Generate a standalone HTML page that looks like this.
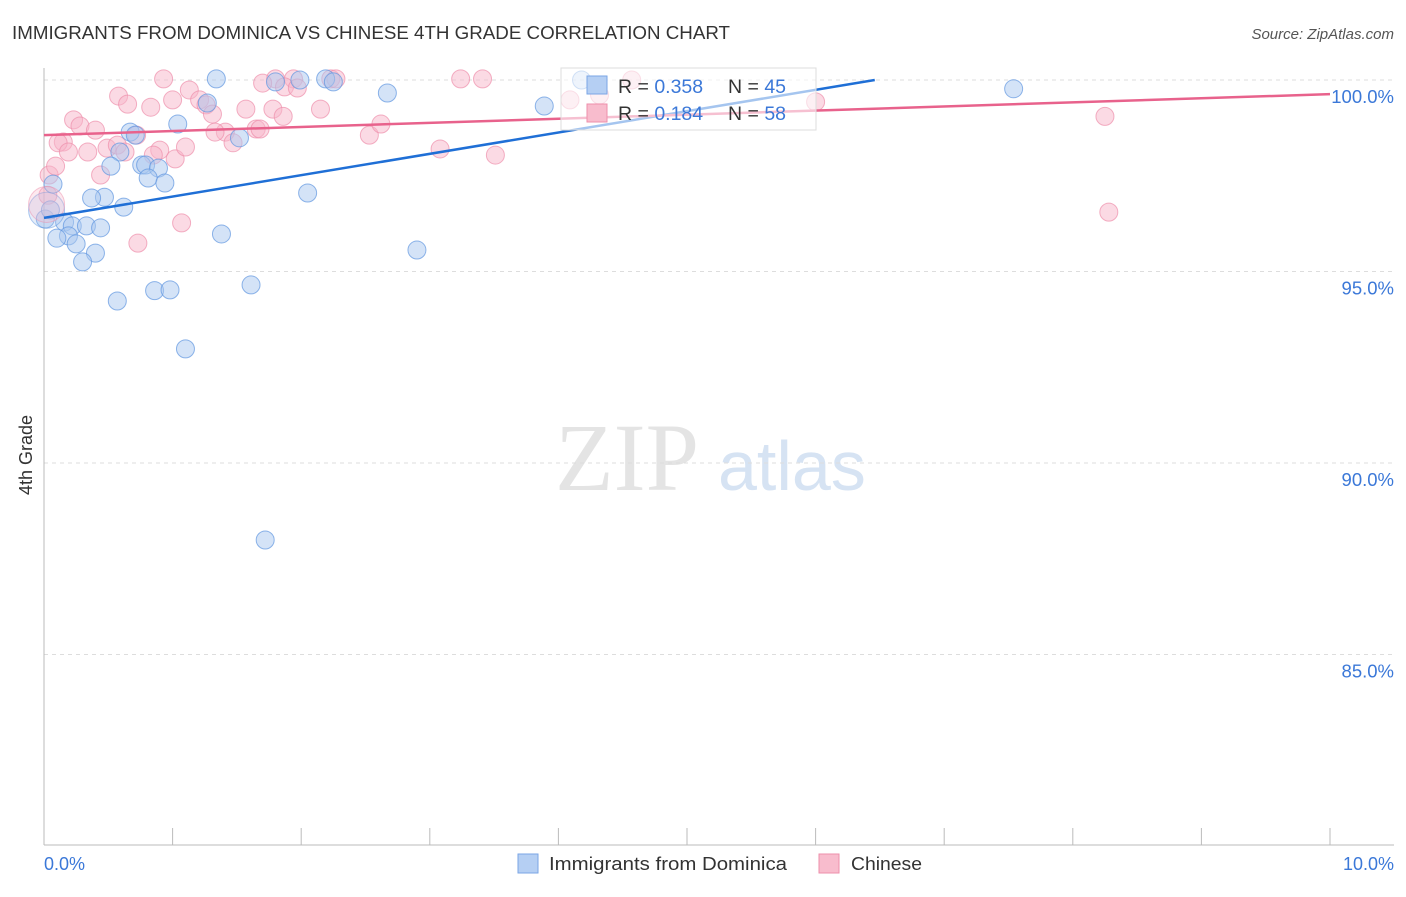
<!DOCTYPE html>
<html><head><meta charset="utf-8"><style>
body{margin:0;background:#fff;font-family:"Liberation Sans",sans-serif}
</style></head><body>
<svg width="1406" height="892" xmlns="http://www.w3.org/2000/svg" id="svg">
<text x="12" y="39" font-size="18" fill="#333" textLength="718" lengthAdjust="spacingAndGlyphs">IMMIGRANTS FROM DOMINICA VS CHINESE 4TH GRADE CORRELATION CHART</text>
<text x="1394" y="39" font-size="15" fill="#555" text-anchor="end" font-style="italic">Source: ZipAtlas.com</text>
<text x="32" y="455" font-size="18" fill="#333" text-anchor="middle" transform="rotate(-90 32 455)">4th Grade</text>
<text x="555" y="490" font-size="96" fill="#e4e4e4" font-family="Liberation Serif,serif">ZIP</text>
<text x="718" y="490" font-size="70" fill="#d6e3f3">atlas</text>
<g id="grid"></g><g id="pts"></g><g id="lines"></g>
<g>
<rect x="561" y="68" width="255" height="62" fill="#fff" fill-opacity="0.6" stroke="#ddd"/>
<rect x="587" y="76" width="20" height="18" fill="#b5cff3" stroke="#7aa6e6"/>
<rect x="587" y="104" width="20" height="18" fill="#f8bccd" stroke="#ee8fab"/>
<text x="618" y="93" font-size="19.5" fill="#333">R = <tspan fill="#3b78d8">0.358</tspan><tspan x="728">N = </tspan><tspan fill="#3b78d8">45</tspan></text>
<text x="618" y="120" font-size="19.5" fill="#333">R = <tspan fill="#3b78d8"> 0.184</tspan><tspan x="728">N = </tspan><tspan fill="#3b78d8">58</tspan></text>
</g>
<g>
<rect x="518" y="854" width="20" height="19" fill="#b5cff3" stroke="#7aa6e6"/>
<text x="549" y="870" font-size="18" fill="#333" textLength="238" lengthAdjust="spacingAndGlyphs">Immigrants from Dominica</text>
<rect x="819" y="854" width="20" height="19" fill="#f8bccd" stroke="#ee8fab"/>
<text x="851" y="870" font-size="18" fill="#333" textLength="71" lengthAdjust="spacingAndGlyphs">Chinese</text>
</g>
<text x="44" y="870" font-size="18" fill="#3b78d8">0.0%</text>
<text x="1394" y="870" font-size="18" fill="#3b78d8" text-anchor="end">10.0%</text>
</svg>
<script>
const yTicks=[100,95,90,85];
const xTicks=[0,1,2,3,4,5,6,7,8,9,10];
const blueX=[1.34,1.80,2.19,2.25,2.67,3.89,4.18,7.54,1.27,1.04,0.67,1.52,0.71,0.59,0.52,0.76,0.79,0.89,0.81,0.94,0.07,0.47,0.37,0.62,2.05,0.16,0.22,0.33,0.44,0.19,0.10,0.25,0.40,0.30,1.38,2.90,0.57,0.86,0.98,1.61,1.10,1.72,0.01,0.05,1.99];
const blueY=[100.03,99.95,100.03,99.95,99.66,99.32,100.0,99.77,99.4,98.85,98.64,98.49,98.56,98.12,97.75,97.78,97.78,97.7,97.44,97.31,97.28,96.94,96.92,96.68,97.05,96.29,96.19,96.19,96.14,95.93,95.87,95.72,95.48,95.25,95.98,95.56,94.23,94.5,94.52,94.65,92.98,87.99,96.37,96.61,100.0];
const pinkX=[0.93,1.80,1.94,2.23,2.27,3.24,3.41,4.57,0.58,0.65,0.83,1.00,1.13,1.21,1.26,1.57,1.70,1.87,1.97,2.15,1.78,1.86,1.31,0.23,0.28,0.40,0.15,0.11,0.19,0.34,0.49,0.57,0.72,0.63,0.90,0.85,1.02,1.10,1.41,1.47,1.65,1.68,2.53,2.62,3.08,3.51,6.00,8.25,8.28,0.44,0.73,1.07,0.04,0.09,0.03,4.09,4.32,1.33];
const pinkY=[100.03,100.03,100.03,100.03,100.03,100.03,100.03,100.0,99.58,99.37,99.29,99.48,99.74,99.48,99.35,99.24,99.92,99.82,99.79,99.24,99.24,99.05,99.11,98.96,98.8,98.69,98.38,98.36,98.12,98.12,98.22,98.3,98.56,98.12,98.17,98.04,97.94,98.25,98.64,98.36,98.72,98.72,98.56,98.85,98.2,98.04,99.43,99.05,96.55,97.52,95.74,96.27,97.52,97.75,96.99,99.48,99.61,98.64];
const bigPts=[[0.02,96.6,'b'],[0.02,96.75,'p']];
const blueTrend=[[0,96.4],[6.46,100]];
const pinkTrend=[[0,98.56],[10,99.63]];
const X=v=>44+v*128.6, Y=v=>80+(100-v)*38.3;
const ns='http://www.w3.org/2000/svg';
function mk(t,a,p){const e=document.createElementNS(ns,t);for(const k in a)e.setAttribute(k,a[k]);p.appendChild(e);return e;}
const svg=document.getElementById('svg'),grid=document.getElementById('grid'),pts=document.getElementById('pts'),lines=document.getElementById('lines');
yTicks.forEach(t=>{const l=mk('line',{x1:44,x2:1394,y1:Y(t),y2:Y(t),stroke:'#ddd','stroke-dasharray':'4,4'},grid);


const tx=mk('text',{x:1394,y:Y(t)+23,'font-size':18.5,fill:'#3b78d8','text-anchor':'end'},grid);tx.textContent=t.toFixed(1)+'%';

});
const ax=mk('line',{x1:44,x2:44,y1:68,y2:845,stroke:'#bbb'},grid);


const bx=mk('line',{x1:44,x2:1394,y1:845,y2:845,stroke:'#bbb'},grid);


xTicks.forEach(t=>{const l=mk('line',{x1:X(t),x2:X(t),y1:828,y2:845,stroke:'#bbb'},grid);

});
function dot(x,y,r,c,op){const b=c==='b';const e=mk('circle',{cx:X(x),cy:Y(y),r:r,fill:b?'#a9c8f0':'#f7b6c9','fill-opacity':op,stroke:b?'#5f95e0':'#ee8fab','stroke-width':1,'stroke-opacity':op+0.2},pts);return e;}
pinkX.forEach((x,i)=>{const e=dot(x,pinkY[i],9,'p',0.5);

});
blueX.forEach((x,i)=>{const e=dot(x,blueY[i],9,'b',0.5);

});
bigPts.forEach(p=>{const e=dot(p[0],p[1],18,p[2],0.3);

});
const bl=mk('line',{x1:X(blueTrend[0][0]),y1:Y(blueTrend[0][1]),x2:X(blueTrend[1][0]),y2:Y(blueTrend[1][1]),stroke:'#1f6fd6','stroke-width':2.5},lines);


const pl=mk('line',{x1:X(pinkTrend[0][0]),y1:Y(pinkTrend[0][1]),x2:X(pinkTrend[1][0]),y2:Y(pinkTrend[1][1]),stroke:'#e8628c','stroke-width':2.5},lines);


</script>
</body></html>
